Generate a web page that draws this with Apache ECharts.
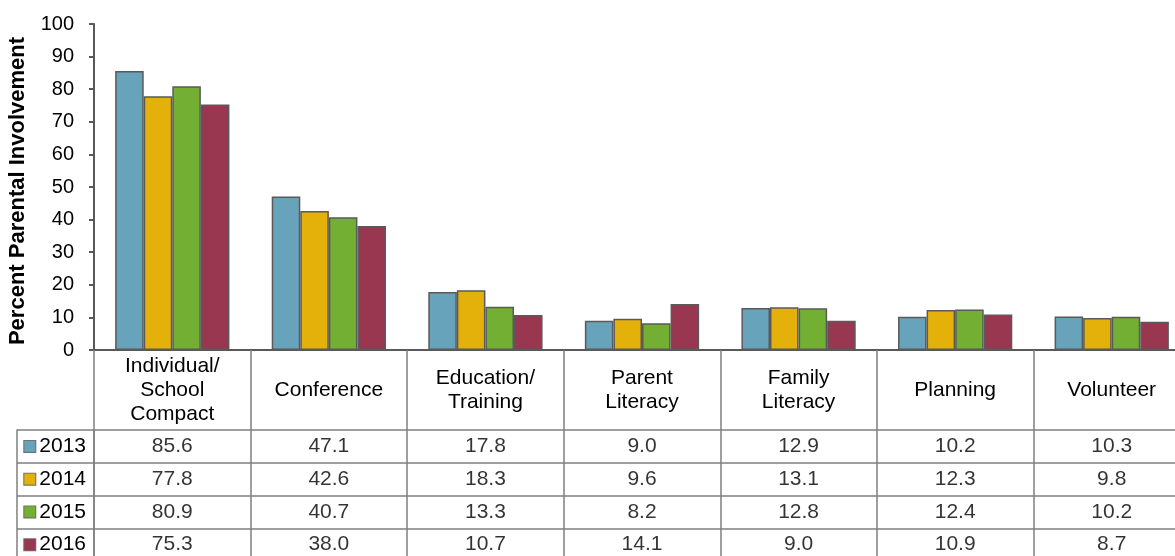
<!DOCTYPE html>
<html lang="en">
<head>
	<meta charset="UTF-8">
	<script src="https://cdn.jsdelivr.net/npm/echarts@6/dist/echarts.min.js"></script>
	<title>Percent Parental Involvement</title>
	<style>html, body { margin: 0; background: #fff; }</style>
</head>
<body>
	<div id="main" style="width: 1175px;height:556px;"></div>

	<script>
		var categories = ['Individual/\nSchool\nCompact', 'Conference', 'Education/\nTraining', 'Parent\nLiteracy', 'Family\nLiteracy', 'Planning', 'Volunteer'];
		var years = ['2013', '2014', '2015', '2016'];
		var v2013 = [85.6, 47.1, 17.8, 9.0, 12.9, 10.2, 10.3];
		var v2014 = [77.8, 42.6, 18.3, 9.6, 13.1, 12.3, 9.8];
		var v2015 = [80.9, 40.7, 13.3, 8.2, 12.8, 12.4, 10.2];
		var v2016 = [75.3, 38.0, 10.7, 14.1, 9.0, 10.9, 8.7];
		var yMin = 0, yMax = 100, yStep = 10;

		var values = [v2013, v2014, v2015, v2016];
		var colors = ['#67a3ba', '#e3b10a', '#73af32', '#98374f'];
		var font = 'Liberation Sans, Arial, sans-serif';
		var tableLine = { color: '#7f7f7f', width: 1.5 };

		// cells of the table under the plot
		var cells = [];
		values.forEach(function (row, y) {
			row.forEach(function (v, c) { cells.push([c, y, v]); });
		});

		// legend keys in the row headers
		var rich = { t: { fontSize: 21, fontFamily: font, color: '#000', padding: [0, 0, 0, 4] } };
		colors.forEach(function (c, i) {
			rich['k' + i] = { width: 11, height: 11, backgroundColor: c, borderColor: '#6d6d6d', borderWidth: 1 };
		});

		var chart = echarts.init(document.getElementById('main'));

		var series = values.map(function (row, i) {
			return {
				name: years[i],
				type: 'bar',
				xAxisIndex: 0,
				yAxisIndex: 0,
				data: row,
				barGap: '0%',
				barCategoryGap: '27%',
				itemStyle: { color: colors[i], borderColor: '#5a5a5a', borderWidth: 1.5 }
			};
		});
		series.push({
			type: 'scatter',
			xAxisIndex: 1,
			yAxisIndex: 1,
			symbolSize: 0,
			data: cells,
			silent: true,
			label: {
				show: true,
				position: 'inside',
				fontSize: 21,
				fontFamily: font,
				color: '#000',
				formatter: function (p) { return p.value[2].toFixed(1); }
			}
		});

		chart.setOption({
			animation: false,
			backgroundColor: '#fff',
			grid: [
				{ left: 94, top: 24, width: 1096, height: 326, outerBoundsMode: 'none' },
				{ left: 94, top: 430, width: 1096, height: 131, outerBoundsMode: 'none' }
			],
			xAxis: [
				{
					gridIndex: 0,
					type: 'category',
					data: categories,
					axisLine: { lineStyle: { color: '#595959', width: 2 } },
					axisTick: { show: true, length: 80, interval: 0, alignWithLabel: false, lineStyle: tableLine },
					axisLabel: {
						interval: 0,
						margin: 40,
						verticalAlign: 'middle',
						fontSize: 21,
						lineHeight: 24,
						fontFamily: font,
						color: '#000'
					}
				},
				{
					gridIndex: 1,
					type: 'category',
					data: categories,
					axisLine: { show: false },
					axisTick: { show: false },
					axisLabel: { show: false },
					splitLine: { show: true, interval: 0, lineStyle: tableLine }
				}
			],
			yAxis: [
				{
					gridIndex: 0,
					type: 'value',
					min: yMin,
					max: yMax,
					interval: yStep,
					name: 'Percent Parental Involvement',
					nameLocation: 'middle',
					nameGap: 65,
					nameTextStyle: { fontSize: 22, fontWeight: 'bold', fontFamily: font, color: '#000', padding: [0, 8, 0, 0] },
					axisLine: { show: true, lineStyle: { color: '#595959', width: 2 } },
					axisTick: { show: true, length: 5, lineStyle: { color: '#595959', width: 2 } },
					axisLabel: { margin: 20, fontSize: 20, fontFamily: font, color: '#000' },
					splitLine: { show: false }
				},
				{
					gridIndex: 1,
					type: 'category',
					data: years,
					inverse: true,
					axisLine: { show: true, lineStyle: tableLine },
					axisTick: { show: true, length: 77, interval: 0, lineStyle: tableLine },
					axisLabel: {
						margin: 8,
						formatter: function (v, i) { return '{k' + i + '|}{t|' + v + '}'; },
						rich: rich
					},
					splitLine: { show: true, interval: 0, lineStyle: tableLine }
				},
				{
					gridIndex: 1,
					type: 'category',
					data: years,
					inverse: true,
					position: 'left',
					offset: 77,
					axisLine: { show: true, lineStyle: tableLine },
					axisTick: { show: false },
					axisLabel: { show: false }
				}
			],
			series: series
		});
	</script>
</body>
</html>
